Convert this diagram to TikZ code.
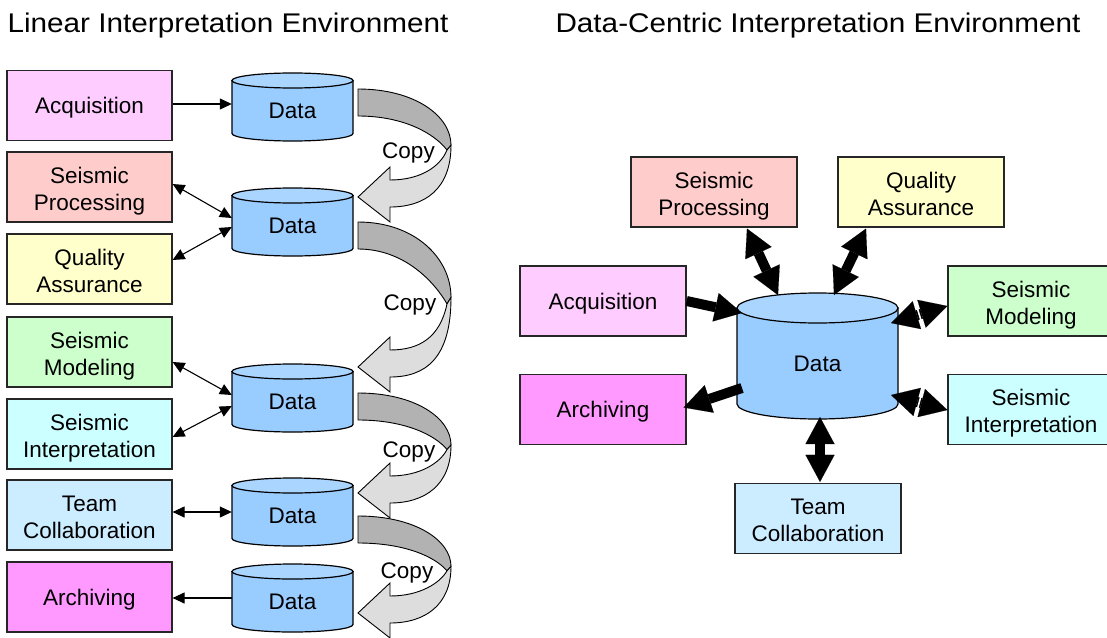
\documentclass[tikz,border=0pt]{standalone}
\usepackage{fontspec}
\setmainfont{Liberation Sans}
\usetikzlibrary{arrows.meta,calc}

\definecolor{cAcq}{HTML}{FFCCFF}
\definecolor{cProc}{HTML}{FFCCCC}
\definecolor{cQual}{HTML}{FFFFCC}
\definecolor{cModel}{HTML}{CCFFCC}
\definecolor{cInterp}{HTML}{CCFFFF}
\definecolor{cTeam}{HTML}{CCECFF}
\definecolor{cArch}{HTML}{FF99FF}
\definecolor{cylSide}{HTML}{99CCFF}
\definecolor{cylTop}{HTML}{AAD5FF}
\definecolor{copyDark}{HTML}{B2B2B2}
\definecolor{copyLight}{HTML}{DDDDDD}

\tikzset{
  every node/.style={font=\fontsize{22.5}{27}\selectfont},
  box/.style={draw=black!85, line width=1.2pt, minimum width=165pt,
    minimum height=70pt, align=center, inner sep=0pt},
  oneline/.style={text height=16pt, text depth=0pt},
  cylframe/.style={inner sep=0pt, text depth=0.3pt},
  cylbody/.style={fill=cylSide, draw=black, line width=1.2pt},
  cyltop/.style={fill=cylTop, draw=black, line width=1.2pt},
  thinto/.style={line width=1.1pt, arrows={-Triangle[length=12pt,width=11pt]}},
  thinboth/.style={line width=1.1pt,
    arrows={Triangle[length=12pt,width=11pt]-Triangle[length=12pt,width=11pt]}},
  bigto/.style={line width=10pt,
    arrows={-Triangle[length=27pt,width=29pt,line width=0.1pt]}},
  bigboth/.style={line width=10pt,
    arrows={Triangle[length=27pt,width=29pt,line width=0.1pt]-Triangle[length=27pt,width=29pt,line width=0.1pt]}},
  breakline/.style={white, line width=1.6pt},
  copyback/.style={fill=copyDark, draw=black, line width=0.9pt, line join=round},
  copyfront/.style={fill=copyLight, draw=black, line width=0.9pt, line join=miter},
  title/.style={font=\fontsize{27}{32}\selectfont, anchor=base},
  copylabel/.style={anchor=base},
}

% two centred lines of box text, balanced about the middle of the box
\newcommand\twolines[2]{\rule{0pt}{24pt}#1\\#2\rule[-5pt]{0pt}{5pt}}

% data store drawn as an upright cylinder: name, centre x, top y, width, height, end radius
\newcommand\datacyl[6]{%
  \pgfmathsetmacro\cylrx{#4/2}%
  \path[cylbody] (#2-\cylrx,#3+#6) -- (#2-\cylrx,#3+#5-#6)
     arc[start angle=180,end angle=360,x radius=\cylrx pt,y radius=#6 pt]
     -- (#2+\cylrx,#3+#6) -- cycle;
  \path[cyltop] (#2,#3+#6) ellipse[x radius=\cylrx pt,y radius=#6 pt];
  \node[cylframe, minimum width=#4pt, minimum height=#5pt, text height=15.8pt+#6pt]
     (#1) at (#2,#3+#5/2) {Data};
}

% curved block arrow: top of the band at #1, tip of the head at #2
\newcommand\copyarrow[2]{%
  \pgfmathsetmacro\cpTop{#1}%
  \pgfmathsetmacro\cpTip{#2}%
  \pgfmathsetmacro\cpSpan{#2-#1}%
  \pgfmathsetmacro\cpRight{#1+0.52*\cpSpan}%
  \pgfmathsetmacro\cpTwist{#1+0.565*\cpSpan}%
  \path[copyback] (358,\cpTop) .. controls (415,\cpTop) and (451,\cpTop+0.25*\cpSpan) .. (451,\cpRight)
     -- (447,\cpTwist) .. controls (435,\cpTop+0.42*\cpSpan) and (405,\cpTop+27) .. (358,\cpTop+27) -- cycle;
  \path[copyfront] (451,\cpRight) .. controls (451,\cpTip-8) and (425,\cpTip+10) .. (390,\cpTip+10)
     -- (390,\cpTip+25) -- (358,\cpTip) -- (390,\cpTip-30) -- (390,\cpTip-17)
     .. controls (420,\cpTip-17) and (440,\cpTip-30) .. (447,\cpTwist) -- cycle;
}

\begin{document}
\begin{tikzpicture}[x=1pt,y=-1pt]
\useasboundingbox (0,0) rectangle (1107,637);
\clip (0,0) rectangle (1107,637);

% headings
\node[title] (t1) at (228,32.5) {\scalebox{1.1}[1]{Linear Interpretation Environment}};
\node[title] (t2) at (818,32.5) {\scalebox{1.1}[1]{Data-Centric Interpretation Environment}};

% ---------- linear workflow ----------
\node[box, oneline, fill=cAcq] (la)  at (89.5,105.5) {Acquisition};
\node[box, fill=cProc]   (lp)  at (89.5,187)   {\twolines{Seismic}{Processing}};
\node[box, fill=cQual]   (lq)  at (89.5,269)   {\twolines{Quality}{Assurance}};
\node[box, fill=cModel]  (lm)  at (89.5,352)   {\twolines{Seismic}{Modeling}};
\node[box, fill=cInterp] (li)  at (89.5,434)   {\twolines{Seismic}{Interpretation}};
\node[box, fill=cTeam]   (lt)  at (89.5,515)   {\twolines{Team}{Collaboration}};
\node[box, oneline, fill=cArch] (lar) at (89.5,597) {Archiving};

\datacyl{ld1}{292.5}{73}{121}{68}{7.5}
\datacyl{ld2}{292.5}{188}{121}{68}{7.5}
\datacyl{ld3}{292.5}{364}{121}{68}{7.5}
\datacyl{ld4}{292.5}{478}{121}{68}{7.5}
\datacyl{ld5}{292.5}{564}{121}{68}{7.5}

\draw[thinto]   ($(la.east)+(0,-1.5)$) -- ($(ld1.west)+(0,-3)$);
\draw[thinboth] ($(lp.east)+(0,-3)$) -- ($(ld2.west)+(0,-4)$);
\draw[thinboth] ($(lq.east)+(0,-9)$) -- ($(ld2.west)+(0,5)$);
\draw[thinboth] ($(lm.east)+(0,10)$) -- ($(ld3.west)+(0,-3)$);
\draw[thinboth] ($(li.east)+(0,3)$)  -- ($(ld3.west)+(0,8)$);
\draw[thinboth] ($(lt.east)+(0,-3)$) -- (ld4.west);
\draw[thinto]   (ld5.west) -- (ld5.west -| lar.east);

\copyarrow{89}{197}
\copyarrow{222}{367}
\copyarrow{393}{493}
\copyarrow{516}{613}

\node[copylabel] (c1) at (408.5,158) {Copy};
\node[copylabel] (c2) at (410,310) {Copy};
\node[copylabel] (c3) at (409,457) {Copy};
\node[copylabel] (c4) at (407,578) {Copy};

% ---------- data-centric workflow ----------
\node[box, oneline, fill=cAcq, minimum width=166pt]  (ra)  at (603,301)   {Acquisition};
\node[box, oneline, fill=cArch, minimum width=166pt] (rar) at (603,409.5) {Archiving};
\node[box, fill=cProc, minimum width=166pt]   (rp)  at (714,192)    {\twolines{Seismic}{Processing}};
\node[box, fill=cQual, minimum width=166pt]   (rq)  at (921,192)    {\twolines{Quality}{Assurance}};
\node[box, fill=cModel, minimum width=166pt]  (rm)  at (1031,301)   {\twolines{Seismic}{Modeling}};
\node[box, fill=cInterp, minimum width=166pt] (ri)  at (1031,409.5) {\twolines{Seismic}{Interpretation}};
\node[box, fill=cTeam, minimum width=166pt]   (rt)  at (818,518.5)  {\twolines{Team}{Collaboration}};

\datacyl{rd}{817.5}{293}{161}{126}{15}

\draw[bigto]   (ra.east) -- ($(rd.center)+(-75.5,-43)$);
\draw[bigto]   ($(rd.center)+(-75.5,32)$) -- ($(rar.east)+(-3,-2)$);
\draw[bigboth] ($(rp.south)+(33,1)$) -- ($(rd.center)+(-39.5,-61)$);
\draw[bigboth] ($(rq.south)+(-55,1)$) -- ($(rd.center)+(16.5,-61)$);
\draw[bigboth] ($(rt.north)+(2,-1)$) -- ($(rd.center)+(2.5,61)$);

\coordinate (m1a) at ($(rm.west)+(0,5)$);
\coordinate (m1b) at ($(rd.center)+(73.5,-33)$);
\draw[bigboth] (m1a) -- (m1b);
\coordinate (m1m) at ($(m1a)!0.5!(m1b)$);
\draw[breakline] ($(m1m)!13pt!90:(m1b)$) -- ($(m1m)!13pt!-90:(m1b)$);

\coordinate (m2a) at ($(ri.west)+(0,0.5)$);
\coordinate (m2b) at ($(rd.center)+(73.5,39)$);
\draw[bigboth] (m2a) -- (m2b);
\coordinate (m2m) at ($(m2a)!0.5!(m2b)$);
\draw[breakline] ($(m2m)!13pt!90:(m2b)$) -- ($(m2m)!13pt!-90:(m2b)$);
\end{tikzpicture}
\end{document}
